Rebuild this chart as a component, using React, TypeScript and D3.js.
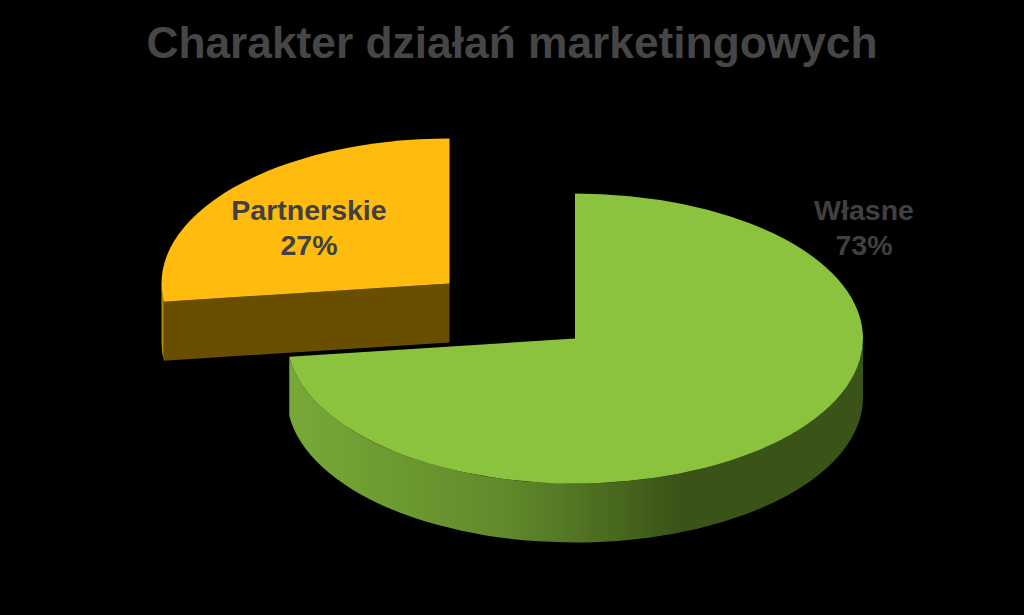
import React, { useEffect, useRef } from 'react';
import * as d3 from 'd3';

const title = 'Charakter działań marketingowych';
const categories = ['Własne', 'Partnerskie'];
const shares = [73, 27];
const topColors = ['#8bc23e', '#ffbc0e'];
const faceColors = ['#3a5418', '#6a4e00'];
const wallColors = ['url(#wallGreen)', '#b98a08'];

const width = 1024;
const height = 615;
const rx = 288;
const ry = 145;
const depth = 59;
const textColor = '#404040';
const titleColor = '#464646';
// centre of each slice, the second one is pulled out of the pie
const centers = [
  { x: 575, y: 338.5 },
  { x: 449.5, y: 283.5 },
];
const labelPos = [
  { x: 864, y: 220 },
  { x: 309, y: 220 },
];

const App: React.FC = () => {
  const svgRef = useRef<SVGSVGElement | null>(null);

  useEffect(() => {
    const svg = d3.select(svgRef.current);
    svg.selectAll('*').remove();

    const defs = svg.append('defs');
    const grad = defs
      .append('linearGradient')
      .attr('id', 'wallGreen')
      .attr('gradientUnits', 'userSpaceOnUse')
      .attr('x1', centers[0].x - rx)
      .attr('x2', centers[0].x + 105)
      .attr('y1', 0)
      .attr('y2', 0);
    grad.append('stop').attr('offset', '0%').attr('stop-color', '#78a938');
    grad.append('stop').attr('offset', '55%').attr('stop-color', '#628a2b');
    grad.append('stop').attr('offset', '100%').attr('stop-color', '#3a5418');

    const pie = d3
      .pie<number>()
      .sort(null)
      .value((d) => d);
    const slices = pie(shares);

    slices.forEach((s, i) => {
      const c = centers[i];
      const point = (a: number) => ({ x: c.x + rx * Math.sin(a), y: c.y - ry * Math.cos(a) });
      const p0 = point(s.startAngle);
      const p1 = point(s.endAngle);
      const large = s.endAngle - s.startAngle > Math.PI ? 1 : 0;
      const g = svg.append('g');

      // outer wall, only the front half of the ellipse can be seen
      const a0 = Math.max(s.startAngle, Math.PI / 2);
      const a1 = Math.min(s.endAngle, (3 * Math.PI) / 2);
      if (a1 > a0) {
        const w0 = point(a0);
        const w1 = point(a1);
        g.append('path')
          .attr(
            'd',
            `M${w0.x},${w0.y}A${rx},${ry} 0 0 1 ${w1.x},${w1.y}L${w1.x},${w1.y + depth}A${rx},${ry} 0 0 0 ${w0.x},${w0.y + depth}Z`
          )
          .attr('fill', wallColors[i]);
      }

      // cut face of the pulled out slice
      if (i === 1) {
        g.append('path')
          .attr('d', `M${c.x},${c.y}L${p0.x},${p0.y}L${p0.x},${p0.y + depth}L${c.x},${c.y + depth}Z`)
          .attr('fill', faceColors[i]);
      }

      g.append('path')
        .attr('d', `M${c.x},${c.y}L${p0.x},${p0.y}A${rx},${ry} 0 ${large} 1 ${p1.x},${p1.y}Z`)
        .attr('fill', topColors[i]);
    });

    svg
      .append('text')
      .attr('x', 512)
      .attr('y', 57.5)
      .attr('text-anchor', 'middle')
      .attr('font-family', '"Liberation Sans", Arial, sans-serif')
      .attr('font-weight', 'bold')
      .attr('font-size', 44.3)
      .attr('fill', titleColor)
      .text(title);

    categories.forEach((name, i) => {
      const t = svg
        .append('text')
        .attr('text-anchor', 'middle')
        .attr('font-family', '"Liberation Sans", Arial, sans-serif')
        .attr('font-weight', 'bold')
        .attr('font-size', 28.5)
        .attr('fill', textColor);
      t.append('tspan').attr('x', labelPos[i].x).attr('y', labelPos[i].y).text(name);
      t.append('tspan')
        .attr('x', labelPos[i].x)
        .attr('y', labelPos[i].y + 35)
        .text(`${shares[i]}%`);
    });
  }, []);

  return (
    <svg
      ref={svgRef}
      width={width}
      height={height}
      style={{ position: 'absolute', left: 0, top: 0, background: '#000', display: 'block' }}
    />
  );
};

export default App;
